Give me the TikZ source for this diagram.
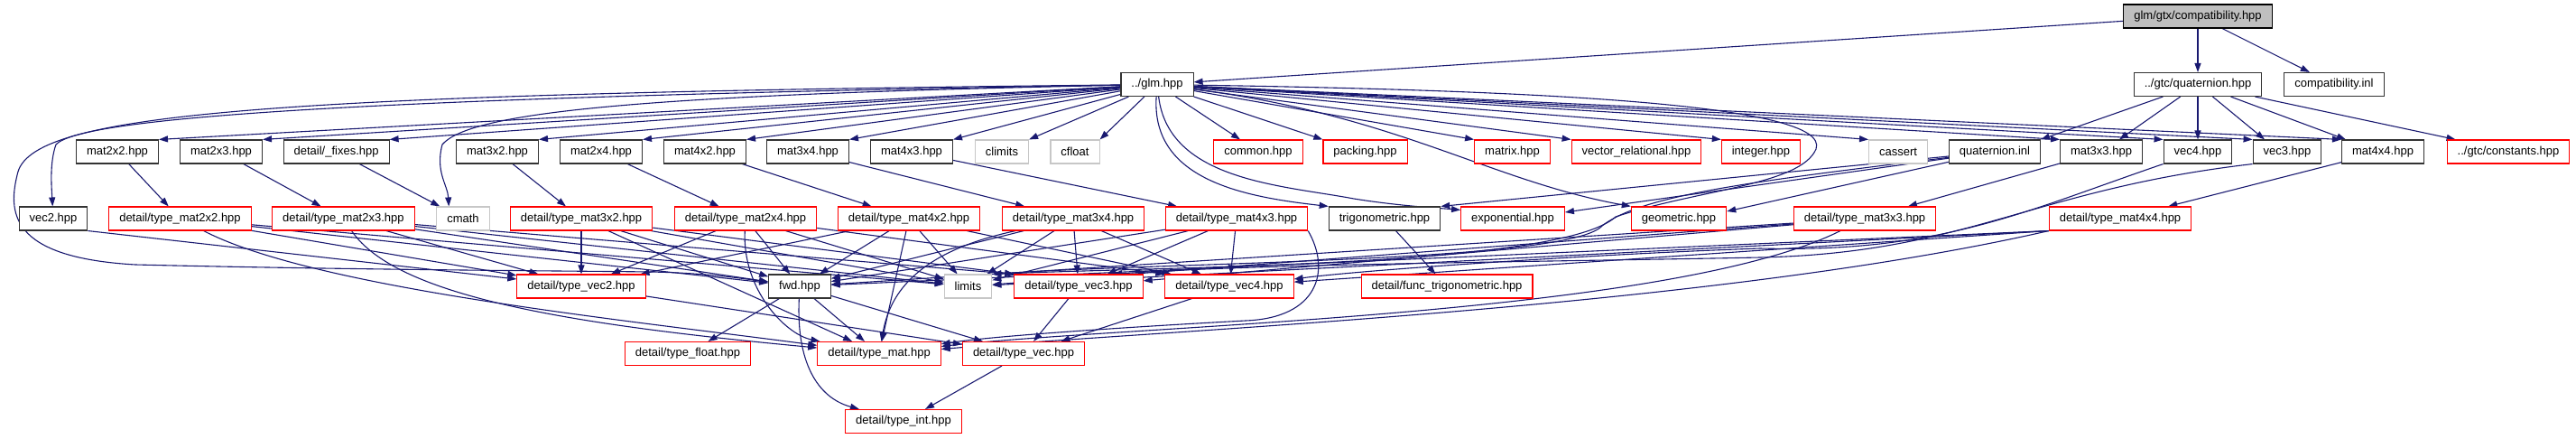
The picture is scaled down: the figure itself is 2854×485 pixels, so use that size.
\documentclass[tikz,border=0pt]{standalone}
\usepackage{fontspec}
\setmainfont{Liberation Sans}
\usetikzlibrary{arrows.meta,backgrounds}
\definecolor{edgeblue}{RGB}{25,25,112}

\begin{document}
\begin{tikzpicture}[
    x=1pt, y=-1pt,
    font=\fontsize{13}{15}\selectfont,
    file/.style={rectangle, draw=black!80, fill=white, line width=1.1pt, minimum height=26pt, inner xsep=11.5pt, inner ysep=0pt},
    redfile/.style={file, draw=red},
    sysfile/.style={file, draw=black!22},
    rootfile/.style={file, draw=black, fill=black!25},
    inc/.style={draw=edgeblue, line width=1.1pt, -{Triangle[length=10pt, width=7pt]}}
]
\useasboundingbox (0,0) rectangle (2854,485);

% ============================================
% FICHERO RAIZ Y PRIMER NIVEL
% ============================================
\node[rootfile] (compat) at (2435,18) {glm/gtx/compatibility.hpp};

\node[file] (glm)     at (1282,93.5) {../glm.hpp};
\node[file] (quat)    at (2435,93.5) {../gtc/quaternion.hpp};
\node[file] (compinl) at (2586,93.5) {compatibility.inl};

% ============================================
% CABECERAS PUBLICAS
% ============================================
\node[file]    (mat2x2)    at (130,168)    {mat2x2.hpp};
\node[file]    (mat2x3)    at (245,168)    {mat2x3.hpp};
\node[file]    (fixes)     at (372.6,168)  {detail/\_fixes.hpp};
\node[file]    (mat3x2)    at (551,168)    {mat3x2.hpp};
\node[file]    (mat2x4)    at (666,168)    {mat2x4.hpp};
\node[file]    (mat4x2)    at (781,168)    {mat4x2.hpp};
\node[file]    (mat3x4)    at (895,168)    {mat3x4.hpp};
\node[file]    (mat4x3)    at (1010,168)   {mat4x3.hpp};
\node[sysfile] (climits)   at (1110,168)   {climits};
\node[sysfile] (cfloat)    at (1191,168)   {cfloat};
\node[redfile] (common)    at (1394,168)   {common.hpp};
\node[redfile] (packing)   at (1512.5,168) {packing.hpp};
\node[redfile] (matrix)    at (1675.5,168) {matrix.hpp};
\node[redfile] (vecrel)    at (1813,168)   {vector\_relational.hpp};
\node[redfile] (integer)   at (1951,168)   {integer.hpp};
\node[sysfile] (cassert)   at (2103,168)   {cassert};
\node[file]    (quatinl)   at (2210,168)   {quaternion.inl};
\node[file]    (mat3x3)    at (2328,168)   {mat3x3.hpp};
\node[file]    (vec4)      at (2435,168)   {vec4.hpp};
\node[file]    (vec3)      at (2534,168)   {vec3.hpp};
\node[file]    (mat4x4)    at (2640,168)   {mat4x4.hpp};
\node[redfile] (constants) at (2779,168)   {../gtc/constants.hpp};

% ============================================
% CABECERAS DETAIL
% ============================================
\node[file]    (vec2)  at (59,242)     {vec2.hpp};
\node[redfile] (tm2x2) at (199.5,242)  {detail/type\_mat2x2.hpp};
\node[redfile] (tm2x3) at (380.4,242)  {detail/type\_mat2x3.hpp};
\node[sysfile] (cmath) at (513,242)    {cmath};
\node[redfile] (tm3x2) at (644,242)    {detail/type\_mat3x2.hpp};
\node[redfile] (tm2x4) at (826,242)    {detail/type\_mat2x4.hpp};
\node[redfile] (tm4x2) at (1007,242)   {detail/type\_mat4x2.hpp};
\node[redfile] (tm3x4) at (1189,242)   {detail/type\_mat3x4.hpp};
\node[redfile] (tm4x3) at (1370,242)   {detail/type\_mat4x3.hpp};
\node[file]    (trig)  at (1534,242)   {trigonometric.hpp};
\node[redfile] (expo)  at (1676,242)   {exponential.hpp};
\node[redfile] (geom)  at (1860,242)   {geometric.hpp};
\node[redfile] (tm3x3) at (2066,242)   {detail/type\_mat3x3.hpp};
\node[redfile] (tm4x4) at (2349,242)   {detail/type\_mat4x4.hpp};

\node[redfile] (tvec2)    at (644,317)    {detail/type\_vec2.hpp};
\node[file]    (fwd)      at (886,317)    {fwd.hpp};
\node[sysfile] (limits)   at (1072.5,317) {limits};
\node[redfile] (tvec3)    at (1195,317)   {detail/type\_vec3.hpp};
\node[redfile] (tvec4)    at (1362,317)   {detail/type\_vec4.hpp};
\node[redfile] (functrig) at (1603,317)   {detail/func\_trigonometric.hpp};

\node[redfile] (tfloat) at (762,391.5)  {detail/type\_float.hpp};
\node[redfile] (tmat)   at (974,391.5)  {detail/type\_mat.hpp};
\node[redfile] (tvec)   at (1134,391.5) {detail/type\_vec.hpp};

\node[redfile] (tint) at (1001,466.5) {detail/type\_int.hpp};

\begin{scope}[on background layer]
% ============================================
% INCLUDES DE compatibility.hpp Y quaternion.hpp
% ============================================
\draw[inc] (compat) -- (glm);
\draw[inc] (compat) -- (quat);
\draw[inc] (compat) -- (compinl);

\draw[inc] (quat) -- (quatinl.north east);
\draw[inc] (quat) -- ([xshift=20pt]mat3x3.north);
\draw[inc] (quat) -- (vec4);
\draw[inc] (quat) -- ([xshift=-25pt]vec3.north);
\draw[inc] (quat) -- ([xshift=5pt]mat4x4.north west);
\draw[inc] (quat) -- ([xshift=10pt]constants.north west);

% ============================================
% INCLUDES DE glm.hpp
% ============================================
\draw[inc] (glm) -- (mat2x2.north east);
\draw[inc] (glm) -- (mat2x3.north east);
\draw[inc] (glm) -- (fixes.north east);
\draw[inc] (glm) -- (mat3x2.north east);
\draw[inc] (glm) -- (mat2x4.north east);
\draw[inc] (glm) -- (mat4x2.north east);
\draw[inc] (glm) -- (mat3x4.north east);
\draw[inc] (glm) -- (mat4x3.north east);
\draw[inc] (glm) -- (climits.north east);
\draw[inc] (glm) -- (cfloat.north east);
\draw[inc] (glm) -- ([xshift=-20pt]common.north);
\draw[inc] (glm) -- (packing.north west);
\draw[inc] (glm) -- (matrix.north west);
\draw[inc] (glm) -- (vecrel.north west);
\draw[inc] (glm) -- (integer.north west);
\draw[inc] (glm) -- (cassert.north west);
\draw[inc] (glm) -- (mat3x3.north west);
\draw[inc] (glm) -- (vec4.north west);
\draw[inc] (glm) -- (vec3.north west);
\draw[inc] (glm) -- (mat4x4.north west);

% curvas largas
\draw[inc] (glm) .. controls (400,108) and (90,130) .. (62,160) .. controls (55,180) and (57,205) .. (vec2);
\draw[inc] (glm) .. controls (300,104) and (40,125) .. (20,190) .. controls (8,235) and (10,285) .. (150,293)
    .. controls (400,299) and (650,300) .. (720,301) .. controls (780,302) and (820,308) .. (fwd);
\draw[inc] (glm) .. controls (700,105) and (520,125) .. (490,160) .. controls (482,190) and (496,205) .. ([xshift=14pt]cmath.north west);
\draw[inc] (glm) .. controls (1275,200) and (1380,218) .. (trig.north west);
\draw[inc] (glm) .. controls (1295,200) and (1420,205) .. (1500,220) .. controls (1550,228) and (1590,230) .. ([yshift=-4pt]expo.north west);
\draw[inc] (glm) .. controls (1550,128) and (1650,200) .. (geom.north west);
\draw[inc] (glm) .. controls (1700,100) and (2030,115) .. (2012,165) .. controls (1995,205) and (1880,210) .. (1790,240)
    .. controls (1730,295) and (1300,295) .. (limits.north east);

% ============================================
% CABECERAS PUBLICAS -> DETAIL
% ============================================
\draw[inc] (fixes)  -- (cmath);
\draw[inc] (mat2x2) -- (tm2x2);
\draw[inc] (mat2x3) -- (tm2x3);
\draw[inc] (mat3x2) -- (tm3x2);
\draw[inc] (mat2x4) -- (tm2x4);
\draw[inc] (mat4x2) -- (tm4x2);
\draw[inc] (mat3x4) -- (tm3x4);
\draw[inc] (mat4x3) -- (tm4x3);
\draw[inc] (mat3x3) -- (tm3x3);
\draw[inc] (mat4x4) -- (tm4x4);
\draw[inc] (trig)   -- (functrig);
\draw[inc] (vec2.south east) -- (tvec2);
\draw[inc] (vec4.south west) .. controls (2240,235) and (2150,280) .. (1950,275) .. controls (1750,282) and (1500,300) .. ([yshift=8pt]tvec4.east);
\draw[inc] (vec3.south west) .. controls (2250,210) and (2180,280) .. (1950,285) .. controls (1700,290) and (1400,292) .. ([xshift=38pt]tvec3.north);

% quaternion.inl
\draw[inc] (quatinl) -- (trig.north east);
\draw[inc] (quatinl) -- ([yshift=7pt]expo.east);
\draw[inc] (quatinl) -- ([yshift=8pt]geom.east);
\draw[inc] (quatinl) .. controls (1950,200) and (1820,215) .. (1775,250) .. controls (1740,290) and (1300,290) .. (limits.north east);

% ============================================
% detail/type_matNxM.hpp
% ============================================
\draw[inc] (tm2x2) -- (fwd);
\draw[inc] (tm2x2) -- (tvec2);
\draw[inc] (tm2x2) .. controls (350,320) and (700,355) .. (tmat);
\draw[inc] (tm2x2) -- (limits);

\draw[inc] (tm2x3) -- (fwd);
\draw[inc] (tm2x3) -- (tvec2);
\draw[inc] (tm2x3) -- (tvec3.north west);
\draw[inc] (tm2x3) .. controls (440,330) and (640,360) .. (tmat);
\draw[inc] (tm2x3) -- (limits);

\draw[inc] (tm3x2) -- (fwd);
\draw[inc] (tm3x2) -- (tvec2);
\draw[inc] (tm3x2) -- (tvec3.north west);
\draw[inc] (tm3x2) -- (tmat);
\draw[inc] (tm3x2) -- (limits);

\draw[inc] (tm2x4) -- (fwd);
\draw[inc] (tm2x4) -- (tvec2);
\draw[inc] (tm2x4) -- (tvec4.north west);
\draw[inc] (tm2x4) .. controls (822,320) and (870,370) .. (tmat);
\draw[inc] (tm2x4) -- (limits);

\draw[inc] (tm4x2) -- (fwd);
\draw[inc] (tm4x2) -- (tvec2);
\draw[inc] (tm4x2) -- (tvec4);
\draw[inc] (tm4x2) -- (tmat);
\draw[inc] (tm4x2) -- (limits);

\draw[inc] (tm3x4) -- (fwd);
\draw[inc] (tm3x4) -- (tvec3);
\draw[inc] (tm3x4) -- (tvec4);
\draw[inc] (tm3x4) .. controls (1010,280) and (985,330) .. (tmat);
\draw[inc] (tm3x4) -- (limits);

\draw[inc] (tm4x3) -- (fwd);
\draw[inc] (tm4x3) -- (tvec3);
\draw[inc] (tm4x3) -- (tvec4);
\draw[inc] (tm4x3.south east) .. controls (1475,300) and (1460,352) .. (1380,355) .. controls (1250,362) and (1100,372) .. (tmat);
\draw[inc] (tm4x3) -- (limits);

\draw[inc] (tm3x3) -- (fwd);
\draw[inc] (tm3x3) -- (tvec3);
\draw[inc] (tm3x3) .. controls (1850,350) and (1250,360) .. ([yshift=8pt]tmat.east);
\draw[inc] (tm3x3) -- (limits);

\draw[inc] (tm4x4.south west) -- (fwd);
\draw[inc] (tm4x4.south west) -- (tvec4);
\draw[inc] (tm4x4.south west) .. controls (1900,340) and (1300,365) .. ([yshift=5pt]tmat.east);
\draw[inc] (tm4x4.south west) -- (limits);

% ============================================
% fwd.hpp Y detail/type_vecN.hpp
% ============================================
\draw[inc] (fwd) -- (tfloat);
\draw[inc] (fwd) -- (tmat);
\draw[inc] (fwd) -- (tvec);
\draw[inc] (fwd) .. controls (882,400) and (905,440) .. (tint);

\draw[inc] (tvec2) -- (tvec);
\draw[inc] (tvec3) -- (tvec);
\draw[inc] (tvec4) -- (tvec);
\draw[inc] (tvec)  -- (tint);
\end{scope}

\end{tikzpicture}
\end{document}
